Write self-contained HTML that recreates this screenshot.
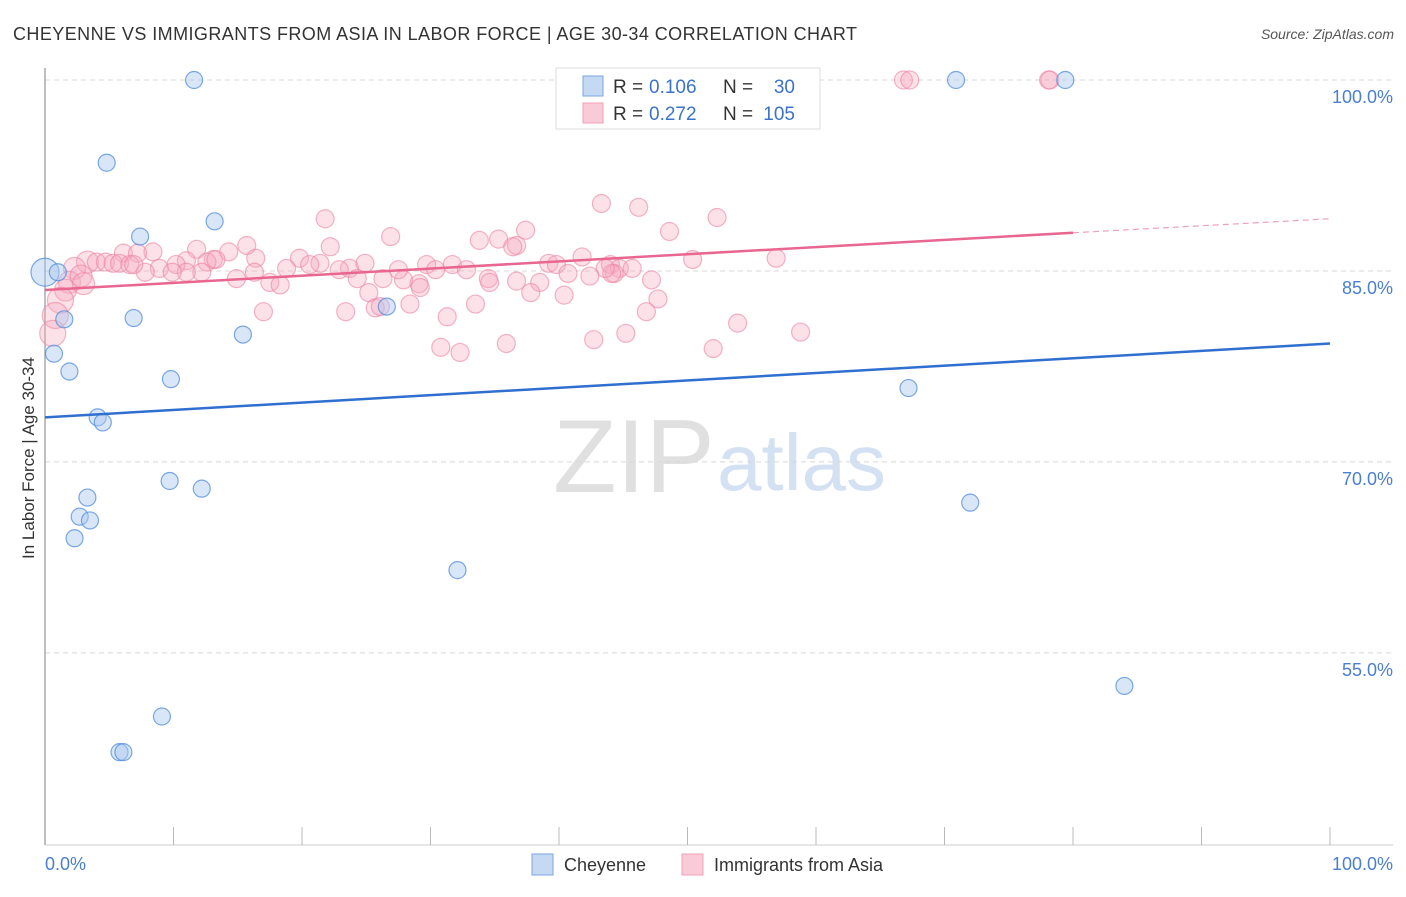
<!DOCTYPE html>
<html><head><meta charset="utf-8"><style>
body{margin:0;background:#fff;font-family:"Liberation Sans",sans-serif}
svg text{font-family:"Liberation Sans",sans-serif}
</style></head><body>
<svg id="chart" width="1406" height="892" viewBox="0 0 1406 892" xmlns="http://www.w3.org/2000/svg">
<text x="13" y="40" font-size="18" fill="#333" textLength="844" lengthAdjust="spacing">CHEYENNE VS IMMIGRANTS FROM ASIA IN LABOR FORCE | AGE 30-34 CORRELATION CHART</text>
<text x="1394" y="39" font-size="14" fill="#555" font-style="italic" text-anchor="end">Source: ZipAtlas.com</text>
<g>
<text x="553" y="492" font-size="104" fill="#e0e0e0" font-family="Liberation Serif,serif">ZIP</text>
<text x="717" y="490" font-size="80" fill="#d3e1f3">atlas</text>
</g>
<g id="grid"></g>
<line x1="45" y1="68" x2="45" y2="845" stroke="#aaa" stroke-width="1.5"/>
<line x1="45" y1="845" x2="1393" y2="845" stroke="#ccc" stroke-width="1"/>
<g id="xticks"></g>
<text transform="translate(34,458) rotate(-90)" font-size="17" fill="#333" text-anchor="middle">In Labor Force | Age 30-34</text>
<text x="45" y="870" font-size="18" fill="#4a7fd0">0.0%</text>
<text x="1393" y="870" font-size="18" fill="#4a7fd0" text-anchor="end">100.0%</text>
<g id="points"></g>
<g id="lines"></g>
<g>
<rect x="556" y="68" width="264" height="61" fill="#fff" stroke="#ddd"/>
<rect x="583" y="76" width="20" height="20" fill="#c5d9f3" stroke="#7aa6e0"/>
<text x="613" y="93" font-size="19" fill="#333">R =</text>
<text x="649" y="93" font-size="19" fill="#3b73c8">0.106</text>
<text x="723" y="93" font-size="19" fill="#333">N =</text>
<text x="795" y="93" font-size="19" fill="#3b73c8" text-anchor="end">30</text>
<rect x="583" y="103" width="20" height="20" fill="#f9cbd8" stroke="#f0a0b8"/>
<text x="613" y="120" font-size="19" fill="#333">R =</text>
<text x="649" y="120" font-size="19" fill="#3b73c8">0.272</text>
<text x="723" y="120" font-size="19" fill="#333">N =</text>
<text x="795" y="120" font-size="19" fill="#3b73c8" text-anchor="end">105</text>
</g>
<g>
<rect x="532" y="854" width="21" height="21" fill="#c5d9f3" stroke="#7aa6e0"/>
<text x="564" y="871" font-size="18" fill="#333">Cheyenne</text>
<rect x="682" y="854" width="21" height="21" fill="#f9cbd8" stroke="#f0a0b8"/>
<text x="714" y="871" font-size="18" fill="#333">Immigrants from Asia</text>
</g>
</svg>
<script>
const yTicks=[100,85,70,55];
const yTickLabels=["100.0%","85.0%","70.0%","55.0%"];
const xTicks=[10,20,30,40,50,60,70,80,90,100];
const cheyX=[11.6,4.8,7.4,13.2,0,1.0,1.5,6.9,0.7,15.4,1.9,9.8,4.1,4.5,9.7,12.2,3.3,2.7,3.5,2.3,32.1,9.1,5.8,6.1,26.6,67.2,72.0,70.9,79.4,84.0];
const cheyY=[100,93.5,87.7,88.9,84.9,84.9,81.2,81.3,78.5,80.0,77.1,76.5,73.5,73.1,68.5,67.9,67.2,65.7,65.4,64.0,61.5,50.0,47.2,47.2,82.2,75.8,66.8,100,100,52.4];
const asiaX=[66.8,67.3,78.1,78.2,43.3,46.2,52.3,21.8,37.4,48.6,26.9,33.8,35.3,36.7,36.4,22.2,15.7,11.8,8.4,6.1,7.2,14.3,41.8,50.4,56.9,19.8,16.4,13.1,11.0,3.3,4.0,4.7,5.3,5.8,6.6,8.9,10.2,12.6,13.3,21.4,20.6,18.8,23.7,24.9,29.7,30.4,31.7,32.8,39.2,39.8,44.0,44.7,45.7,42.4,40.7,44.3,38.5,36.7,34.5,34.6,29.1,27.9,27.5,26.3,22.9,24.3,17.5,18.3,16.3,14.9,12.2,11.0,9.9,7.8,6.9,2.3,1.9,1.6,1.2,0.8,0.6,2.8,29.2,25.2,37.8,40.4,47.7,47.2,46.8,44.1,43.6,33.5,28.4,23.4,25.7,17.0,31.3,53.9,58.8,45.2,42.7,32.3,30.8,35.9,52.0,26.1,3.0];
const asiaY=[100,100,100,100,90.3,90.0,89.2,89.1,88.2,88.1,87.7,87.4,87.5,87.0,86.9,86.9,87.0,86.7,86.5,86.4,86.4,86.5,86.1,85.9,86.0,86.0,86.0,85.9,85.8,85.7,85.7,85.7,85.6,85.6,85.5,85.2,85.5,85.7,85.9,85.6,85.5,85.2,85.2,85.6,85.5,85.1,85.5,85.1,85.6,85.5,85.5,85.2,85.2,84.6,84.8,84.8,84.1,84.2,84.4,84.1,84.0,84.3,85.1,84.4,85.1,84.4,84.1,83.9,84.9,84.4,84.9,84.9,84.9,84.9,85.5,85.2,84.1,83.5,82.7,81.5,80.1,84.6,83.7,83.3,83.3,83.1,82.8,84.3,81.8,84.8,85.2,82.4,82.4,81.8,82.1,81.8,81.4,80.9,80.2,80.1,79.6,78.6,79.0,79.3,78.9,82.2,84.0];
const cheyLine=[73.5,79.3];
const asiaLine=[83.5,88.0,89.1];
const NS="http://www.w3.org/2000/svg";
const X0=45,X1=1330,Y100=80,PX_PER=12.73;
function sx(v){return X0+(X1-X0)*v/100;}
function sy(v){return Y100+(100-v)*PX_PER;}
function mk(tag,attrs,parent){const e=document.createElementNS(NS,tag);for(const k in attrs)e.setAttribute(k,attrs[k]);parent.appendChild(e);return e;}
const grid=document.getElementById('grid');
yTicks.forEach((t,i)=>{
 const l=mk('line',{x1:45,x2:1393,y1:sy(t),y2:sy(t),stroke:'#d8d8d8','stroke-dasharray':'5,4'},grid);
 
 
 const tx=mk('text',{x:1393,y:sy(t)+23,'font-size':18,fill:'#4a7fd0','text-anchor':'end'},grid);
 tx.textContent=yTickLabels[i];
 
 
});
const xt=document.getElementById('xticks');
xTicks.forEach(t=>{
 const l=mk('line',{x1:sx(t),x2:sx(t),y1:845,y2:827,stroke:'#bbb'},xt);
 
 
});
const pts=document.getElementById('points');
asiaX.forEach((x,i)=>{
 const r=x<3.5?(x<1.5?13:11):9;
 const c=mk('circle',{cx:sx(x),cy:sy(asiaY[i]),r:r,fill:'rgba(246,170,192,0.35)',stroke:'rgba(236,130,162,0.6)','stroke-width':1.2},pts);
 
 
});
cheyX.forEach((x,i)=>{
 const r=x===0?14:8.5;
 const c=mk('circle',{cx:sx(x),cy:sy(cheyY[i]),r:r,fill:'rgba(170,200,240,0.45)',stroke:'rgba(80,140,220,0.75)','stroke-width':1.2},pts);
 
 
});
const lg=document.getElementById('lines');
const bl=mk('line',{x1:sx(0),y1:sy(cheyLine[0]),x2:sx(100),y2:sy(cheyLine[1]),stroke:'#2f6fd0','stroke-width':2.5},lg);


const pl=mk('line',{x1:sx(0),y1:sy(asiaLine[0]),x2:sx(80),y2:sy(asiaLine[1]),stroke:'#e8668f','stroke-width':2.5},lg);


const pd=mk('line',{x1:sx(80),y1:sy(asiaLine[1]),x2:sx(100),y2:sy(asiaLine[2]),stroke:'#eea0b8','stroke-width':1.2,'stroke-dasharray':'6,4'},lg);


</script>
</body></html>
